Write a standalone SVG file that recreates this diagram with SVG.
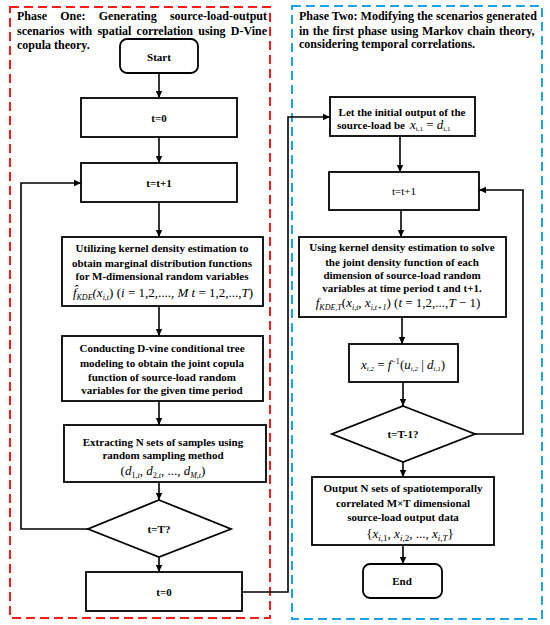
<svg xmlns="http://www.w3.org/2000/svg" width="550" height="625" viewBox="0 0 550 625">
<defs>
<marker id="ah" markerUnits="userSpaceOnUse" markerWidth="8" markerHeight="8" refX="7" refY="4" orient="auto">
<path d="M0,0.8 L7,4 L0,7.2 Z" fill="#000"/>
</marker>
<style>
.box{fill:#fff;stroke:#000;stroke-width:1.8}
.t{font-family:"Liberation Serif","Times New Roman",serif;font-weight:bold;font-size:11px;fill:#000}
.h{font-family:"Liberation Serif","Times New Roman",serif;font-weight:bold;font-size:12px;fill:#000}
.m{font-family:"Liberation Serif","Times New Roman",serif;font-style:italic;font-size:13px;fill:#000}
.u{font-style:normal}
.c{fill:none;stroke:#000;stroke-width:1.6;marker-end:url(#ah)}
</style>
</defs>
<rect width="550" height="625" fill="#fff"/>
<rect x="10" y="7" width="260" height="611" fill="none" stroke="#ff1a1a" stroke-width="2" stroke-dasharray="9,5"/>
<rect x="292" y="6" width="250" height="613" fill="none" stroke="#1ea2e6" stroke-width="2" stroke-dasharray="9,5"/>
<g id="title1" class="h">
<text x="17" y="20" word-spacing="10.2">Phase One: Generating source-load-output</text>
<text x="17" y="35" word-spacing="2.2">scenarios with spatial correlation using D-Vine</text>
<text x="17" y="49">copula theory.</text>
</g>
<g id="title2" class="h">
<text x="299" y="20">Phase Two: Modifying the scenarios generated</text>
<text x="299" y="35" word-spacing="0.8">in the first phase using Markov chain theory,</text>
<text x="299" y="48">considering temporal correlations.</text>
</g>
<g id="connectors">
<path class="c" d="M159,73 V98"/>
<path class="c" d="M159,137 V163"/>
<path class="c" d="M159,202 V237"/>
<path class="c" d="M159,306 V336"/>
<path class="c" d="M159,401 V425"/>
<path class="c" d="M159,482 V500"/>
<path class="c" d="M159,557 V572"/>
<path class="c" d="M88,529 H21 V183 H81"/>
<path class="c" d="M242,592 H288 V117 H330"/>
<path class="c" d="M400,136 V172"/>
<path class="c" d="M401,210 V237"/>
<path class="c" d="M402,317 V344"/>
<path class="c" d="M403,382 V406"/>
<path class="c" d="M475,434 H523 V190 H479"/>
<path class="c" d="M403,462 V477"/>
<path class="c" d="M403,545 V564"/>
</g>
<g id="start">
<rect class="box" x="120" y="39" width="78" height="34" rx="7"/>
<text class="t" x="159" y="61" text-anchor="middle">Start</text>
</g>
<g id="t0a">
<rect class="box" x="81" y="98" width="156" height="39"/>
<text class="t" x="159" y="122" text-anchor="middle">t=0</text>
</g>
<g id="t1a">
<rect class="box" x="81" y="163" width="156" height="39"/>
<text class="t" x="159" y="187" text-anchor="middle">t=t+1</text>
</g>
<g id="kde">
<rect class="box" x="62" y="237" width="201" height="69"/>
<text class="t" x="162" y="252" text-anchor="middle">Utilizing kernel density estimation to</text>
<text class="t" x="162" y="267" text-anchor="middle">obtain marginal distribution functions</text>
<text class="t" x="162" y="280" text-anchor="middle">for M-dimensional random variables</text>
<text class="m" x="163" y="297" text-anchor="middle">f&#770;<tspan font-size="8" dy="3">KDE</tspan><tspan dy="-3">(x</tspan><tspan font-size="8" dy="3">i,t</tspan><tspan dy="-3" class="u">) (</tspan>i<tspan class="u"> = 1,2,...., </tspan>M  t<tspan class="u"> = 1,2,...,</tspan>T<tspan class="u">)</tspan></text>
</g>
<g id="dvine">
<rect class="box" x="62" y="336" width="201" height="65"/>
<text class="t" x="162" y="352" text-anchor="middle">Conducting D-vine conditional tree</text>
<text class="t" x="162" y="367" text-anchor="middle">modeling to obtain the joint copula</text>
<text class="t" x="162" y="381" text-anchor="middle">function of source-load random</text>
<text class="t" x="162" y="394" text-anchor="middle">variables for the given time period</text>
</g>
<g id="extract">
<rect class="box" x="64" y="425" width="202" height="57"/>
<text class="t" x="163" y="446" text-anchor="middle">Extracting N sets of samples using</text>
<text class="t" x="163" y="459" text-anchor="middle">random sampling method</text>
<text class="m" x="163" y="475" text-anchor="middle" font-size="14"><tspan class="u">(</tspan>d<tspan font-size="8" dy="3" class="u">1,</tspan><tspan font-size="8">t</tspan><tspan dy="-3" class="u">, </tspan>d<tspan font-size="8" dy="3" class="u">2,</tspan><tspan font-size="8">t</tspan><tspan dy="-3" class="u">, ..., </tspan>d<tspan font-size="8" dy="3">M,t</tspan><tspan dy="-3" class="u">)</tspan></text>
</g>
<g id="dec1">
<path class="box" d="M159,500 L231,529 L159,557 L88,529 Z"/>
<text class="t" x="159" y="533" text-anchor="middle">t=T?</text>
</g>
<g id="t0b">
<rect class="box" x="86" y="572" width="156" height="39"/>
<text class="t" x="164" y="596" text-anchor="middle">t=0</text>
</g>
<g id="init">
<rect class="box" x="330" y="97" width="145" height="39"/>
<text class="t" x="402" y="116" text-anchor="middle">Let the initial output of the</text>
<text class="t" x="337" y="129">source-load be</text>
<text class="m" x="410" y="129" font-size="11">x<tspan font-size="7" dy="2" class="u">i,1</tspan><tspan dy="-2" class="u"> = </tspan>d<tspan font-size="7" dy="2" class="u">i,1</tspan></text>
</g>
<g id="t1b">
<rect class="box" x="329" y="172" width="150" height="38"/>
<text class="t" x="404" y="195" text-anchor="middle" style="font-weight:normal">t=t+1</text>
</g>
<g id="joint">
<rect class="box" x="299" y="237" width="207" height="80"/>
<text class="t" x="402" y="251" text-anchor="middle">Using kernel density estimation to solve</text>
<text class="t" x="402" y="266" text-anchor="middle">the joint density function of each</text>
<text class="t" x="402" y="279" text-anchor="middle">dimension of source-load random</text>
<text class="t" x="402" y="292" text-anchor="middle">variables at time period t and t+1.</text>
<text class="m" x="398" y="307" text-anchor="middle">f<tspan font-size="8" dy="3">KDE,T</tspan><tspan dy="-3" class="u">(</tspan>x<tspan font-size="8" dy="3">i,t</tspan><tspan dy="-3" class="u">, </tspan>x<tspan font-size="8" dy="3">i,t+1</tspan><tspan dy="-3" class="u">) (</tspan>t<tspan class="u"> = 1,2,...,</tspan>T<tspan class="u"> − 1)</tspan></text>
</g>
<g id="inv">
<rect class="box" x="349" y="344" width="109" height="38"/>
<text class="m" x="403" y="369" text-anchor="middle" font-size="12">x<tspan font-size="7" dy="2">i,2</tspan><tspan dy="-2" class="u"> = </tspan>f<tspan font-size="8" dy="-5" class="u">−1</tspan><tspan dy="5" class="u">(</tspan>u<tspan font-size="7" dy="2">i,2</tspan><tspan dy="-2" class="u"> | </tspan>d<tspan font-size="7" dy="2">i,1</tspan><tspan dy="-2" class="u">)</tspan></text>
</g>
<g id="dec2">
<path class="box" d="M403,406 L475,434 L403,462 L332,434 Z"/>
<text class="t" x="403" y="438" text-anchor="middle">t=T-1?</text>
</g>
<g id="output">
<rect class="box" x="312" y="477" width="182" height="68"/>
<text class="t" x="403" y="492" text-anchor="middle">Output N sets of spatiotemporally</text>
<text class="t" x="403" y="507" text-anchor="middle">correlated M×T dimensional</text>
<text class="t" x="403" y="521" text-anchor="middle">source-load output data</text>
<text class="m" x="410" y="538" text-anchor="middle" font-size="15"><tspan class="u">{</tspan>x<tspan font-size="9" dy="3">i,</tspan><tspan font-size="9" class="u">1</tspan><tspan dy="-3" class="u">, </tspan>x<tspan font-size="9" dy="3">i,</tspan><tspan font-size="9" class="u">2</tspan><tspan dy="-3" class="u">, ..., </tspan>x<tspan font-size="9" dy="3">i,T</tspan><tspan dy="-3" class="u">}</tspan></text>
</g>
<g id="end">
<rect class="box" x="363" y="564" width="79" height="34" rx="7"/>
<text class="t" x="402" y="585" text-anchor="middle">End</text>
</g>
</svg>
